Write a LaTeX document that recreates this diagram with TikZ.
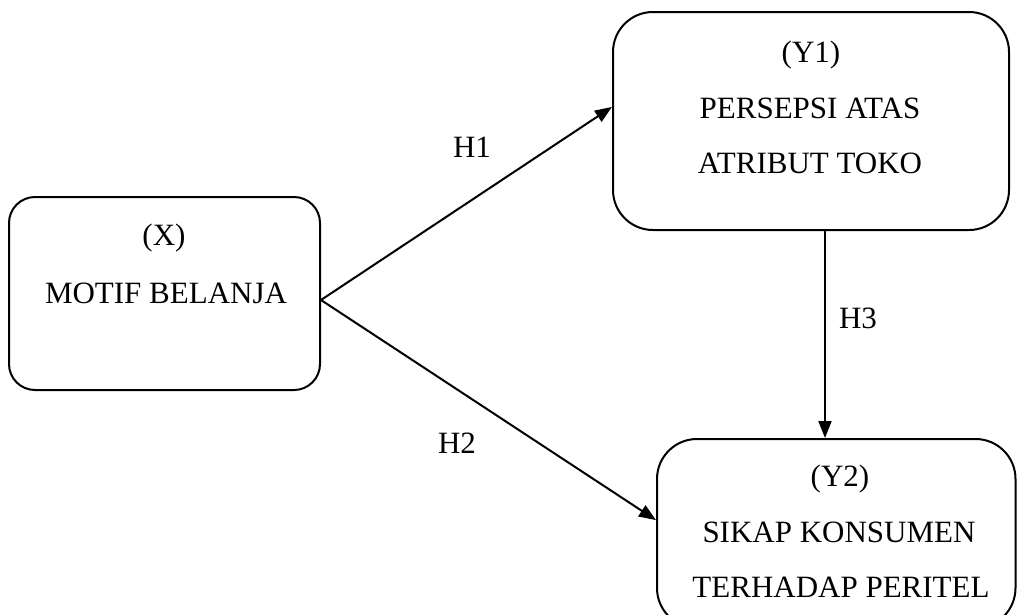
\documentclass[tikz,border=0pt]{standalone}
\usepackage{fontspec}
\setmainfont{Liberation Serif}
\usetikzlibrary{arrows.meta,calc}
\begin{document}
\begin{tikzpicture}[x=1pt,y=-1pt,
  box/.style={draw=black,line width=2pt,rectangle,inner sep=0pt,minimum width=#1},
  txt/.style={inner sep=0pt,font=\fontsize{31}{36}\selectfont},
  lbl/.style={inner sep=0pt,font=\fontsize{31}{36}\selectfont},
  conn/.style={line width=2pt,-{Triangle[length=17pt,width=13pt]}}]
\useasboundingbox (0,0) rectangle (1017,614);
% boxes
\node[box=311pt,minimum height=193pt,rounded corners=26pt] (X) at (164.5,293.5) {};
\node[box=396pt,minimum height=218pt,rounded corners=40pt] (Y1) at (811,121) {};
\node[box=358.5pt,minimum height=189pt,rounded corners=40pt] (Y2) at (836.25,533.5) {};
% texts
\node[txt] (xa) at (164,238) {(X)};
\node[txt] (xb) at (166,293) {MOTIF BELANJA};
\node[txt] (ya) at (811,55) {(Y1)};
\node[txt] (yb) at (810,108) {PERSEPSI ATAS};
\node[txt] (yc) at (810,163) {ATRIBUT TOKO};
\node[txt] (za) at (840,479) {(Y2)};
\node[txt] (zb) at (839,532) {SIKAP KONSUMEN};
\node[txt] (zc) at (841,587) {TERHADAP PERITEL};
% connectors
\coordinate (xs) at ($(X.east)+(0,6.5)$);
\draw[conn] (xs) -- ($(Y1.north west)!0.436!(Y1.south west)$);
\draw[conn] (xs) -- ($(Y2.north west)!0.43!(Y2.south west)$);
\draw[conn] ($(Y1.south west)+(213,0)$) -- ($(Y2.north west)+(169,0)$);
% labels
\node[lbl] (h1) at (472,147) {H1};
\node[lbl] (h2) at (457,443) {H2};
\node[lbl] (h3) at (858,318) {H3};
\end{tikzpicture}
\end{document}
